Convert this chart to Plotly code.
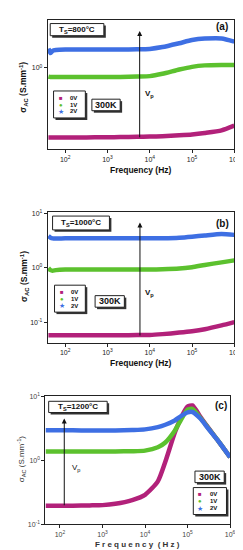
import plotly.graph_objects as go

# ---------------- data ----------------
freq_ab = [40, 45, 50, 60, 100, 200, 500, 1e3, 2e3, 5e3, 1e4, 2e4, 5e4, 1e5, 2e5, 5e5, 1e6]
a_0V = [0.165, 0.165, 0.165, 0.165, 0.165, 0.165, 0.166, 0.166, 0.167, 0.168, 0.169, 0.171, 0.175, 0.179, 0.186, 0.199, 0.225]
a_1V = [0.80, 0.79, 0.79, 0.79, 0.79, 0.79, 0.79, 0.79, 0.79, 0.80, 0.81, 0.86, 0.96, 1.03, 1.07, 1.08, 1.08]
a_2V = [1.65, 1.47, 1.56, 1.59, 1.61, 1.61, 1.61, 1.61, 1.61, 1.62, 1.64, 1.72, 1.90, 2.06, 2.14, 2.15, 1.98]

b_0V = [0.057, 0.057, 0.057, 0.057, 0.057, 0.057, 0.057, 0.057, 0.057, 0.058, 0.058, 0.060, 0.064, 0.068, 0.074, 0.087, 0.100]
b_1V = [0.98, 0.90, 0.88, 0.90, 0.92, 0.92, 0.92, 0.92, 0.92, 0.92, 0.92, 0.93, 0.96, 1.02, 1.12, 1.25, 1.36]
b_2V = [3.80, 3.55, 3.45, 3.42, 3.45, 3.45, 3.45, 3.45, 3.45, 3.45, 3.45, 3.47, 3.55, 3.70, 3.90, 4.15, 4.00]

freq_c = [46, 100, 200, 500, 1e3, 2e3, 5e3, 1e4, 2e4, 3e4, 5e4, 7e4, 1e5, 1.3e5, 2e5, 3e5, 5e5, 7e5, 1e6]
c_0V = [0.195, 0.195, 0.196, 0.198, 0.200, 0.210, 0.240, 0.290, 0.470, 0.950, 2.70, 4.60, 6.90, 7.20, 4.80, 3.30, 2.10, 1.55, 1.12]
c_1V = [1.38, 1.38, 1.38, 1.38, 1.38, 1.38, 1.39, 1.42, 1.60, 1.90, 2.90, 4.30, 6.20, 6.40, 4.60, 3.25, 2.10, 1.55, 1.12]
c_2V = [2.95, 2.95, 2.95, 2.93, 2.93, 2.93, 2.98, 3.05, 3.30, 3.60, 4.20, 4.90, 5.60, 5.70, 4.50, 3.20, 2.10, 1.55, 1.12]

series_names = ["0V", "1V", "2V"]
x_tickvals = [1e2, 1e3, 1e4, 1e5, 1e6]
x_ticktext = ["10<sup>2</sup>", "10<sup>3</sup>", "10<sup>4</sup>", "10<sup>5</sup>", "10<sup>6</sup>"]
panel_labels = ["(a)", "(b)", "(c)"]
ts_labels = ["T<sub>S</sub>=800°C", "T<sub>S</sub>=1000°C", "T<sub>S</sub>=1200°C"]

# ---------------- style ----------------
W, H = 243, 550
FONT = "Liberation Sans"
colors = ["#B2217A", "#5CC12E", "#3E6FE3"]
symbols = ["■", "●", "★"]

def px(x):
    return x / W

def py(y):
    return 1 - y / H

fig = go.Figure()

panels = [
    dict(freq=freq_ab, ys=[a_0V, a_1V, a_2V], ax="", x0=40.7, x1=232, y0=8, y1=139,
         xr=[1.585, 6], yr=[-0.914, 0.541], ytv=[1], ytt=["10<sup>0</sup>"]),
    dict(freq=freq_ab, ys=[b_0V, b_1V, b_2V], ax="2", x0=40.7, x1=232, y0=202.7, y1=335,
         xr=[1.585, 6], yr=[-1.38, 1.02], ytv=[0.1, 1, 10],
         ytt=["10<sup>-1</sup>", "10<sup>0</sup>", "10<sup>1</sup>"]),
    dict(freq=freq_c, ys=[c_0V, c_1V, c_2V], ax="3", x0=38.3, x1=227.7, y0=389.3, y1=519,
         xr=[1.656, 6], yr=[-1, 1], ytv=[0.1, 1, 10],
         ytt=["10<sup>-1</sup>", "10<sup>0</sup>", "10<sup>1</sup>"]),
]

for p in panels:
    for name, ys, col in zip(series_names, p["ys"], colors):
        fig.add_trace(go.Scatter(
            x=p["freq"], y=ys, mode="lines", name=name,
            line=dict(color=col, width=4.5, shape="spline", smoothing=0.6),
            xaxis="x" + p["ax"], yaxis="y" + p["ax"], showlegend=False,
        ))
    light = p["ax"] == "3"
    axfont = dict(family=FONT, size=7, color="#444" if light else "#222")
    fig.layout["xaxis" + p["ax"]] = dict(
        type="log", range=p["xr"], domain=[px(p["x0"]), px(p["x1"])],
        anchor="y" + p["ax"], showgrid=False, zeroline=False,
        showline=True, linecolor="#222", linewidth=1, mirror=True,
        ticks="outside", ticklen=3, tickcolor="#222",
        tickvals=x_tickvals, ticktext=x_ticktext, tickfont=axfont,
    )
    fig.layout["yaxis" + p["ax"]] = dict(
        type="log", range=p["yr"], domain=[py(p["y1"]), py(p["y0"])],
        anchor="x" + p["ax"], showgrid=False, zeroline=False,
        showline=True, linecolor="#222", linewidth=1, mirror=True,
        ticks="outside", ticklen=3, tickcolor="#222",
        tickvals=p["ytv"], ticktext=p["ytt"], tickfont=axfont,
    )

shapes = []
annotations = []

def box(x0, y0, x1, y1, shadow=True):
    if shadow:
        shapes.append(dict(type="rect", xref="paper", yref="paper",
                           x0=px(x0 + 2), x1=px(x1 + 2), y0=py(y1 + 2), y1=py(y0 + 2),
                           fillcolor="#333", line=dict(width=0), layer="above"))
    shapes.append(dict(type="rect", xref="paper", yref="paper",
                       x0=px(x0), x1=px(x1), y0=py(y1), y1=py(y0),
                       fillcolor="white", line=dict(color="#222", width=1), layer="above"))

def text(x, y, s, size=8, bold=True, color="#111", xanchor="center", angle=0, family=FONT):
    if bold:
        s = "<b>" + s + "</b>"
    annotations.append(dict(xref="paper", yref="paper", x=px(x), y=py(y), text=s,
                            showarrow=False, xanchor=xanchor, yanchor="middle",
                            textangle=angle, font=dict(family=family, size=size, color=color)))

def arrow(x, ybot, ytop):
    annotations.append(dict(xref="paper", yref="paper", x=px(x), y=py(ytop),
                            ax=0, ay=ybot - ytop, text="", showarrow=True,
                            arrowhead=2, arrowsize=1, arrowwidth=1, arrowcolor="#111"))

def legend(x0, y0, x1, y1, rows, sx, tx):
    box(x0, y0, x1, y1)
    for ry, sym, col, name in zip(rows, symbols, colors, series_names):
        text(sx, ry, sym, size=6 if sym != "★" else 7, bold=False, color=col)
        text(tx, ry, name, size=6, bold=True, xanchor="left")

# panel (a)
box(43.3, 11.7, 98.3, 24)
text(70.8, 17.8, ts_labels[0], size=8)
text(219, 15, panel_labels[0], size=10)
box(86, 88.3, 115, 100)
text(100.5, 94.2, "300K", size=9)
legend(46.7, 80, 79.3, 107.3, [87.3, 94, 100.7], 54, 62)
arrow(135, 127, 19.3)
text(145, 83.3, "V<sub>p</sub>", size=8)
text(136, 160, "Frequency (Hz)", size=8.5)
text(15, 76, "σ<sub>AC</sub> (S.mm<sup>-1</sup>)", size=8.5, angle=-90)

# panel (b)
box(45.7, 206.7, 104, 220.7)
text(74.8, 213.7, ts_labels[1], size=8)
text(220, 214, panel_labels[1], size=10)
box(89.3, 287.3, 119.3, 299)
text(104.3, 293.2, "300K", size=9)
legend(47.7, 276.7, 79.3, 304, [284, 290.7, 297.3], 55, 63)
arrow(135.3, 327.7, 213.3)
text(145, 285, "V<sub>p</sub>", size=8)
text(136, 355.7, "Frequency (Hz)", size=8.5)
text(16.7, 268, "σ<sub>AC</sub> (S.mm<sup>-1</sup>)", size=8.5, angle=-90)

# panel (c)
box(41.7, 394.3, 101.7, 405.7)
text(71.7, 400, ts_labels[2], size=8)
text(218, 399, panel_labels[2], size=10)
box(191.7, 465, 221.7, 476.7)
text(206.7, 470.8, "300K", size=9)
legend(190, 481.7, 224, 509, [488.3, 495.7, 502.7], 196.7, 205)
arrow(57.7, 500, 411.7)
text(70, 461.7, "V<sub>p</sub>", size=8, bold=False)
text(133, 539, "F r e q u e n c y  ( H z )", size=8, color="#333")
text(13.3, 453, "σ<sub>AC</sub> (S.mm<sup>-1</sup>)", size=8, bold=False, angle=-90, color="#333")

fig.update_layout(
    width=W, height=H, margin=dict(l=0, r=0, t=0, b=0),
    paper_bgcolor="white", plot_bgcolor="white",
    shapes=shapes, annotations=annotations, showlegend=False,
    font=dict(family=FONT),
)

fig.write_html("out.html")
